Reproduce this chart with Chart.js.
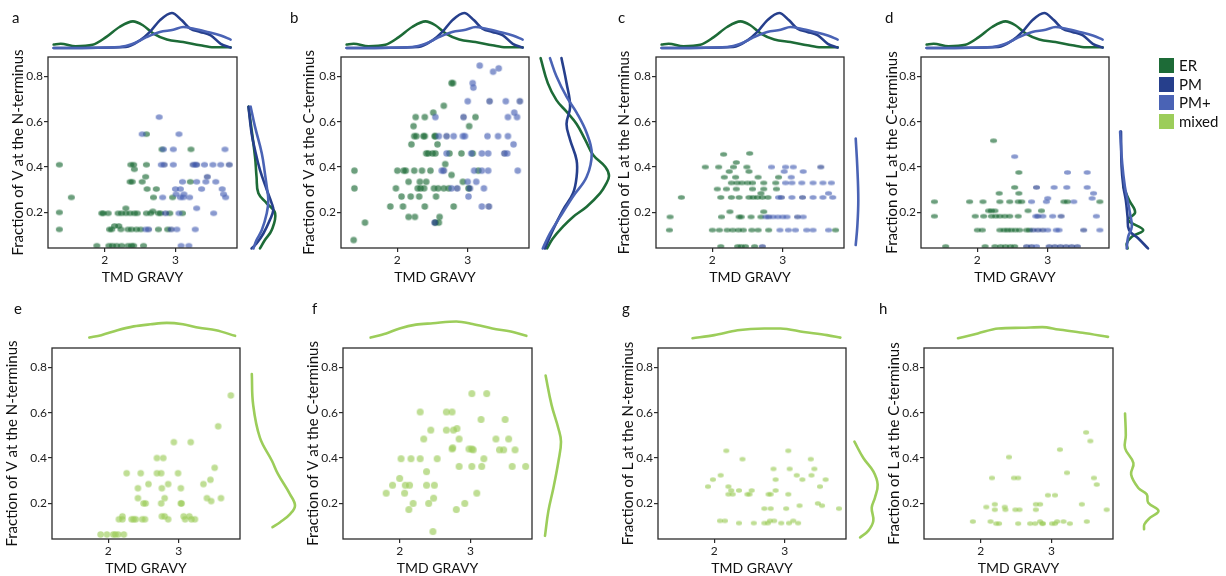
<!DOCTYPE html>
<html>
<head>
<meta charset="utf-8">
<title>TMD GRAVY vs terminal V / L fraction</title>
<script src="https://cdn.jsdelivr.net/npm/chart.js@4.4.1/dist/chart.umd.min.js"></script>
<style>
  body { margin: 0; background: #fff; }
  #page { position: relative; width: 1226px; height: 576px; overflow: hidden; font-family: Lato, "Open Sans", sans-serif; color: #111; }
  #page canvas { position: absolute; }
  .tag { position: absolute; font-size: 15px; line-height: 15px; }
  .key { position: absolute; left: 1159px; font-size: 15px; line-height: 15px; white-space: nowrap; }
  .key span { display: inline-block; width: 15px; height: 15px; vertical-align: top; margin-right: 5px; }
</style>
</head>
<body>
<div id="page"></div>
<script>
// ---- data ----
const groups = ['ER', 'PM', 'PM+', 'mixed'];
const xTicks = [2, 3];
const yTicks = [0.2, 0.4, 0.6, 0.8];
const xRange = [1.2, 3.87];
const yRange = [0.043, 0.885];
const xTitle = 'TMD GRAVY';
const yTitles = ['Fraction of V at the N-terminus', 'Fraction of V at the C-terminus',
                 'Fraction of L at the N-terminus', 'Fraction of L at the C-terminus'];

// scatter points [TMD GRAVY, fraction]
const aER = [[1.36,0.41],[1.36,0.2],[1.36,0.125],[1.53,0.266],[2.37,0.41],[2.41,0.41],[2.59,0.41],[2.42,0.39],[2.58,0.357],
  [2.36,0.335],[2.39,0.335],[2.53,0.335],[3.21,0.335],[2.60,0.303],[2.73,0.303],[2.69,0.266],[2.96,0.266],[2.59,0.545],
  [2.81,0.478],[3.22,0.478],[2.30,0.218],[2.68,0.205],[1.96,0.196],[1.98,0.196],[2.05,0.196],[2.19,0.196],[2.24,0.196],
  [2.30,0.196],[2.36,0.196],[2.42,0.196],[2.46,0.196],[2.59,0.196],[2.65,0.196],[2.76,0.196],[2.79,0.196],[2.92,0.196],
  [3.10,0.196],[2.14,0.14],[2.20,0.14],[2.07,0.125],[2.10,0.125],[2.23,0.125],[2.33,0.125],[2.38,0.125],[2.45,0.125],
  [2.51,0.125],[2.76,0.125],[2.89,0.125],[1.89,0.053],[2.06,0.053],[2.11,0.053],[2.17,0.053],[2.24,0.053],[2.33,0.053],
  [2.38,0.053],[2.41,0.053],[2.55,0.053]];
const aPM = [[2.84,0.41],[3.30,0.41],[3.76,0.41],[3.45,0.357],[2.86,0.196],[2.62,0.125],[2.94,0.125],[3.25,0.41]];
const aPMp = [[2.77,0.62],[2.53,0.545],[3.05,0.545],[2.83,0.478],[2.97,0.478],[3.70,0.478],[2.80,0.41],[2.97,0.41],[3.28,0.41],
  [3.41,0.41],[3.53,0.41],[3.64,0.41],[3.10,0.335],[3.30,0.335],[3.43,0.335],[3.57,0.335],[3.00,0.303],[3.07,0.303],[3.37,0.303],
  [3.66,0.303],[3.01,0.28],[3.12,0.28],[3.68,0.28],[2.82,0.266],[3.07,0.266],[3.11,0.266],[3.20,0.266],[3.71,0.266],[3.30,0.218],
  [3.05,0.196],[3.54,0.196],[2.58,0.125],[3.02,0.125],[3.28,0.125],[3.08,0.053],[3.19,0.053]];

const bER = [[2.77,0.77],[2.79,0.77],[2.66,0.67],[2.51,0.64],[2.26,0.62],[2.39,0.62],[3.11,0.62],[2.23,0.58],[3.02,0.58],
  [2.24,0.536],[2.27,0.536],[2.37,0.536],[2.39,0.536],[2.53,0.536],[2.54,0.536],[2.20,0.50],[2.57,0.50],[2.41,0.46],[2.44,0.46],
  [2.50,0.46],[2.54,0.46],[2.74,0.46],[2.91,0.46],[3.07,0.46],[2.68,0.413],[1.39,0.384],[2.00,0.384],[2.09,0.384],[2.12,0.384],
  [2.24,0.384],[2.35,0.384],[2.47,0.384],[3.15,0.384],[2.77,0.365],[2.16,0.335],[2.32,0.335],[2.41,0.335],[2.93,0.335],
  [1.39,0.306],[1.98,0.306],[2.29,0.306],[2.33,0.306],[2.38,0.306],[2.52,0.306],[2.58,0.306],[2.66,0.306],[2.73,0.306],
  [3.01,0.306],[2.06,0.27],[2.19,0.27],[2.31,0.27],[2.55,0.27],[1.90,0.226],[2.08,0.226],[2.39,0.226],[2.80,0.226],[2.16,0.18],
  [2.25,0.18],[2.60,0.18],[1.54,0.155],[2.54,0.155],[2.59,0.155],[1.38,0.078]];
const bPM = [[3.31,0.69],[3.74,0.69],[2.94,0.62],[2.70,0.536],[3.52,0.46],[2.66,0.384],[2.85,0.306],[3.03,0.306],[3.30,0.226],[2.53,0.155]];
const bPMp = [[3.17,0.847],[3.44,0.835],[3.36,0.82],[3.07,0.77],[3.08,0.75],[3.00,0.69],[3.54,0.69],[3.66,0.64],[2.54,0.62],
  [3.57,0.62],[3.70,0.62],[2.59,0.536],[2.80,0.536],[2.93,0.536],[2.96,0.536],[3.28,0.536],[3.43,0.536],[3.57,0.536],[3.65,0.50],
  [2.70,0.46],[3.05,0.46],[3.20,0.46],[3.29,0.46],[3.56,0.46],[2.63,0.384],[3.09,0.384],[3.20,0.384],[3.29,0.384],[3.71,0.384],
  [3.00,0.335],[3.12,0.335],[2.77,0.306],[3.23,0.306],[3.01,0.27],[3.20,0.226]];

const cER = [[2.53,0.46],[2.16,0.456],[2.34,0.42],[1.90,0.40],[2.09,0.40],[2.30,0.40],[2.49,0.40],[2.24,0.38],[2.52,0.38],
  [2.17,0.355],[2.33,0.355],[2.65,0.355],[2.94,0.355],[2.27,0.33],[2.35,0.33],[2.42,0.33],[2.50,0.33],[2.57,0.33],[2.73,0.33],
  [2.90,0.33],[2.07,0.303],[2.20,0.303],[2.34,0.303],[2.57,0.303],[2.73,0.303],[2.91,0.303],[2.69,0.284],[1.56,0.266],[2.12,0.266],
  [2.27,0.266],[2.38,0.266],[2.52,0.266],[2.58,0.266],[2.64,0.266],[2.71,0.266],[2.79,0.266],[2.25,0.203],[2.73,0.203],[1.40,0.18],
  [2.13,0.18],[2.38,0.18],[2.41,0.18],[2.55,0.18],[2.69,0.18],[1.39,0.122],[2.00,0.122],[2.10,0.122],[2.21,0.122],[2.29,0.122],
  [2.37,0.122],[2.44,0.122],[2.56,0.122],[2.65,0.122],[2.80,0.122],[3.75,0.122],[2.12,0.05],[2.36,0.05],[2.41,0.05],[2.47,0.05],[2.60,0.05]];
const cPM = [[3.54,0.40],[2.98,0.266],[3.28,0.266],[2.80,0.18],[3.21,0.18],[2.71,0.05]];
const cPMp = [[2.84,0.40],[3.04,0.40],[3.15,0.40],[3.02,0.38],[3.29,0.38],[3.12,0.355],[3.04,0.33],[3.13,0.33],[3.27,0.33],[3.43,0.33],
  [3.57,0.33],[3.69,0.33],[3.65,0.284],[2.94,0.266],[3.13,0.266],[3.43,0.266],[3.57,0.266],[3.71,0.266],[2.76,0.18],[2.86,0.18],
  [2.93,0.18],[3.00,0.18],[3.06,0.18],[3.29,0.18],[2.96,0.122],[3.08,0.122],[3.18,0.122],[3.34,0.122],[3.43,0.122],[3.65,0.122]];

const dER = [[2.23,0.516],[2.59,0.376],[2.53,0.31],[2.31,0.284],[2.59,0.284],[1.39,0.247],[1.89,0.247],[2.08,0.247],[2.32,0.247],
  [2.46,0.247],[2.58,0.247],[2.63,0.247],[3.23,0.247],[3.28,0.247],[3.74,0.247],[2.16,0.207],[2.20,0.207],[2.25,0.207],[2.72,0.207],
  [2.91,0.207],[1.39,0.183],[1.97,0.183],[2.09,0.183],[2.20,0.183],[2.26,0.183],[2.32,0.183],[2.39,0.183],[2.46,0.183],[2.58,0.183],
  [2.00,0.122],[2.07,0.122],[2.32,0.122],[2.38,0.122],[2.43,0.122],[2.48,0.122],[2.54,0.122],[2.60,0.122],[2.70,0.122],[2.74,0.122],
  [1.55,0.05],[2.11,0.05],[2.25,0.05],[2.33,0.05],[2.40,0.05],[2.47,0.05],[2.53,0.05]];
const dPM = [[2.84,0.31],[2.86,0.183],[3.19,0.183],[2.79,0.122],[2.86,0.122],[2.93,0.122],[3.51,0.122],[2.70,0.05],[2.77,0.05],
  [3.02,0.05],[3.10,0.05],[3.18,0.05],[3.26,0.05],[3.34,0.05],[3.42,0.05]];
const dPMp = [[2.53,0.446],[3.28,0.376],[3.56,0.376],[3.09,0.31],[3.27,0.31],[3.56,0.31],[3.65,0.284],[3.00,0.262],[3.63,0.262],
  [2.77,0.247],[2.98,0.247],[3.37,0.247],[2.83,0.183],[2.93,0.183],[3.07,0.183],[3.69,0.183],[3.00,0.122],[3.12,0.122],[3.16,0.122],
  [3.74,0.122],[2.84,0.05]];

const eMix = [[3.74,0.676],[3.56,0.54],[2.93,0.47],[3.17,0.47],[2.69,0.40],[2.78,0.40],[3.51,0.357],[2.26,0.333],[2.46,0.333],
  [2.69,0.333],[2.75,0.333],[2.99,0.333],[3.45,0.304],[2.57,0.285],[2.85,0.285],[3.35,0.285],[2.42,0.267],[2.76,0.267],[3.03,0.267],
  [2.42,0.223],[2.80,0.223],[3.40,0.223],[3.60,0.223],[3.46,0.21],[2.50,0.20],[2.53,0.20],[2.75,0.20],[3.03,0.20],[3.04,0.20],
  [2.20,0.143],[2.76,0.143],[2.80,0.143],[3.07,0.143],[3.15,0.143],[2.15,0.13],[2.20,0.13],[2.33,0.13],[2.36,0.13],[2.39,0.13],
  [2.48,0.13],[2.52,0.13],[2.85,0.13],[3.09,0.13],[3.18,0.13],[3.23,0.13],[1.89,0.063],[1.98,0.063],[2.07,0.063],[2.10,0.063],
  [2.14,0.063],[2.22,0.063]];
const fMix = [[3.02,0.684],[3.23,0.684],[2.29,0.603],[2.66,0.603],[2.74,0.603],[3.15,0.57],[3.49,0.57],[2.44,0.523],[2.66,0.523],
  [2.76,0.523],[2.81,0.53],[2.34,0.484],[2.84,0.484],[3.36,0.484],[3.54,0.484],[2.74,0.44],[2.75,0.445],[2.98,0.44],[3.02,0.44],
  [3.04,0.436],[3.41,0.436],[3.47,0.436],[3.63,0.436],[2.02,0.397],[2.16,0.397],[2.29,0.397],[2.53,0.397],[3.19,0.397],[2.84,0.363],
  [3.02,0.363],[3.16,0.363],[3.59,0.363],[3.78,0.363],[2.38,0.34],[2.00,0.31],[1.90,0.28],[2.08,0.28],[2.14,0.28],[2.38,0.28],
  [2.49,0.28],[1.81,0.245],[2.07,0.245],[3.09,0.245],[2.48,0.223],[2.19,0.2],[2.41,0.2],[2.92,0.2],[2.13,0.173],[2.80,0.173],[2.47,0.076]];
const gMix = [[2.17,0.432],[3.05,0.432],[2.40,0.395],[3.37,0.395],[2.84,0.352],[3.07,0.352],[3.42,0.352],[2.09,0.324],[3.17,0.324],
  [3.38,0.324],[1.98,0.305],[2.87,0.305],[3.25,0.305],[3.58,0.305],[1.91,0.274],[2.20,0.274],[3.50,0.274],[2.24,0.257],[2.35,0.257],
  [2.53,0.257],[2.87,0.257],[2.20,0.24],[2.26,0.24],[2.47,0.24],[2.50,0.24],[2.77,0.24],[2.80,0.24],[3.05,0.24],[3.47,0.2],[3.53,0.19],
  [3.21,0.19],[2.71,0.177],[2.80,0.177],[3.02,0.177],[3.77,0.177],[2.08,0.123],[2.15,0.123],[2.79,0.123],[2.85,0.123],[3.12,0.123],
  [2.35,0.113],[2.56,0.113],[2.71,0.113],[2.76,0.113],[2.95,0.113],[3.06,0.113],[3.19,0.113]];
const hMix = [[3.49,0.513],[3.55,0.475],[3.12,0.437],[2.40,0.404],[3.22,0.335],[2.16,0.312],[2.47,0.312],[2.53,0.312],[3.60,0.312],
  [3.64,0.283],[2.95,0.236],[3.05,0.236],[2.20,0.196],[2.78,0.196],[2.84,0.196],[3.43,0.196],[2.08,0.184],[2.34,0.184],[2.20,0.172],
  [2.35,0.172],[2.49,0.172],[2.55,0.172],[2.78,0.172],[3.78,0.172],[1.89,0.12],[2.14,0.12],[2.84,0.12],[3.08,0.12],[3.17,0.12],
  [3.50,0.12],[2.22,0.111],[2.26,0.111],[2.53,0.111],[2.70,0.111],[2.77,0.111],[2.87,0.111],[2.88,0.111],[3.01,0.111],[3.05,0.111],[3.26,0.111]];

// top marginal densities [TMD GRAVY, relative density]
const topER = [[1.28,0.10],[1.38,0.12],[1.59,0.05],[1.83,0.09],[2.02,0.31],[2.21,0.60],[2.40,0.76],[2.54,0.65],[2.69,0.41],
  [2.88,0.24],[3.11,0.17],[3.35,0.08],[3.54,0.02],[3.78,0.02]];
const topPM = [[1.28,0.0],[2.30,0.03],[2.50,0.22],[2.64,0.46],[2.78,0.79],[2.95,1.0],[3.09,0.79],[3.21,0.55],[3.35,0.46],
  [3.50,0.36],[3.64,0.12],[3.78,0.01]];
const topPMp = [[1.28,0.0],[2.21,0.03],[2.40,0.12],[2.59,0.31],[2.78,0.46],[2.97,0.52],[3.11,0.60],[3.26,0.55],[3.45,0.46],
  [3.64,0.36],[3.78,0.24]];
const eTop = [[1.73,0.04],[1.90,0.11],[2.13,0.25],[2.36,0.36],[2.60,0.42],[2.83,0.46],[3.06,0.42],[3.29,0.32],[3.53,0.25],[3.80,0.09]];
const fTop = [[1.59,0.04],[1.81,0.16],[2.00,0.30],[2.23,0.41],[2.47,0.45],[2.80,0.50],[3.03,0.43],[3.31,0.30],[3.60,0.20],[3.79,0.09]];
const gTop = [[1.69,0.02],[2.00,0.11],[2.33,0.25],[2.71,0.30],[2.94,0.30],[3.27,0.20],[3.60,0.11],[3.79,0.04]];
const hTop = [[1.68,0.02],[1.96,0.16],[2.25,0.30],[2.58,0.32],[2.87,0.34],[3.10,0.27],[3.44,0.18],[3.80,0.06]];

// right marginal densities [relative density, fraction]
const aSideER = [[0.08,0.666],[0.11,0.637],[0.29,0.446],[0.34,0.357],[0.40,0.284],[0.67,0.24],[0.94,0.196],[0.83,0.122],[0.61,0.078],[0.45,0.041]];
const aSidePM = [[0.08,0.666],[0.18,0.549],[0.29,0.475],[0.45,0.387],[0.67,0.30],[0.83,0.24],[0.88,0.21],[0.77,0.166],[0.56,0.107],[0.34,0.063],[0.18,0.041]];
const aSidePMp = [[0.15,0.666],[0.29,0.578],[0.51,0.46],[0.61,0.372],[0.67,0.313],[0.72,0.254],[0.67,0.196],[0.51,0.122],[0.34,0.078],[0.24,0.041]];
const bSideER = [[0.05,0.88],[0.15,0.77],[0.27,0.695],[0.41,0.644],[0.55,0.59],[0.67,0.52],[0.78,0.453],[0.95,0.40],[1.0,0.36],
  [0.95,0.32],[0.875,0.284],[0.69,0.225],[0.5,0.18],[0.36,0.137],[0.22,0.085],[0.14,0.041]];
const bSidePM = [[0.34,0.88],[0.41,0.77],[0.46,0.666],[0.41,0.59],[0.46,0.52],[0.55,0.43],[0.55,0.357],[0.5,0.284],[0.36,0.21],[0.22,0.122],[0.11,0.041]];
const bSidePMp = [[0.18,0.88],[0.27,0.80],[0.41,0.71],[0.55,0.64],[0.69,0.55],[0.76,0.46],[0.69,0.357],[0.5,0.27],[0.32,0.18],[0.18,0.107],[0.08,0.041]];
const cSidePMp = [[0.37,0.526],[0.53,0.40],[0.63,0.254],[0.53,0.137],[0.37,0.056]];
const dSideER = [[0.18,0.313],[0.37,0.254],[0.57,0.2],[0.34,0.166],[0.84,0.122],[0.46,0.093],[0.29,0.063],[0.32,0.041]];
const dSidePM = [[0.10,0.556],[0.12,0.40],[0.18,0.313],[0.26,0.254],[0.32,0.18],[0.37,0.122],[0.68,0.085],[1.0,0.041]];
const dSidePMp = [[0.07,0.556],[0.14,0.416],[0.23,0.313],[0.32,0.254],[0.40,0.196],[0.46,0.137],[0.34,0.093],[0.29,0.041]];
const eSide = [[0.04,0.77],[0.07,0.635],[0.22,0.49],[0.49,0.387],[0.62,0.33],[0.89,0.24],[1.0,0.19],[0.89,0.153],[0.67,0.117],[0.5,0.095]];
const fSide = [[0.13,0.764],[0.43,0.633],[0.77,0.53],[0.9,0.472],[0.77,0.385],[0.52,0.268],[0.27,0.167],[0.1,0.057]];
const gSide = [[0.09,0.472],[0.42,0.4],[0.79,0.341],[0.95,0.283],[0.85,0.225],[0.73,0.181],[0.79,0.123],[0.6,0.079],[0.3,0.05]];
const hSide = [[0.08,0.596],[0.1,0.5],[0.08,0.443],[0.3,0.378],[0.24,0.327],[0.43,0.268],[0.65,0.24],[0.69,0.203],[0.96,0.167],
  [0.74,0.137],[0.59,0.108],[0.58,0.086]];

// ---- styling / layout ----
const colors = { 'ER': '#1d6b37', 'PM': '#263f8c', 'PM+': '#4a63b5', 'mixed': '#9ccd5a' };
const FONT = 'Lato, "Open Sans", sans-serif';

const panels = [
  { tag: 'a', tagAt: [12, 10], box: [48, 57, 237, 248], title: 0, ttl: 30, dot: [7, 5.5],
    pts: { 'ER': aER, 'PM': aPM, 'PM+': aPMp }, top: { 'ER': topER, 'PM': topPM, 'PM+': topPMp },
    side: { 'ER': aSideER, 'PM': aSidePM, 'PM+': aSidePMp }, sideBox: [246, 31] },
  { tag: 'b', tagAt: [290, 10], box: [341, 57, 529, 248], title: 1, ttl: 32, dot: [6.5, 6.5],
    pts: { 'ER': bER, 'PM': bPM, 'PM+': bPMp }, top: { 'ER': topER, 'PM': topPM, 'PM+': topPMp },
    side: { 'ER': bSideER, 'PM': bSidePM, 'PM+': bSidePMp }, sideBox: [537, 72] },
  { tag: 'c', tagAt: [618, 10], box: [656, 57, 844, 248], title: 2, ttl: 32, dot: [7, 4.5],
    pts: { 'ER': cER, 'PM': cPM, 'PM+': cPMp }, top: { 'ER': topER, 'PM': topPM, 'PM+': topPMp },
    side: { 'PM+': cSidePMp }, sideBox: [852, 10] },
  { tag: 'd', tagAt: [885, 10], box: [921, 57, 1109, 248], title: 3, ttl: 29, dot: [7, 4.5],
    pts: { 'ER': dER, 'PM': dPM, 'PM+': dPMp }, top: { 'ER': topER, 'PM': topPM, 'PM+': topPMp },
    side: { 'ER': dSideER, 'PM': dSidePM, 'PM+': dSidePMp }, sideBox: [1118, 30] },
  { tag: 'e', tagAt: [14, 301], box: [52, 348, 240, 539], title: 0, ttl: 40, dot: [6.5, 6.5],
    pts: { 'mixed': eMix }, top: { 'mixed': eTop }, side: { 'mixed': eSide }, sideBox: [250, 45] },
  { tag: 'f', tagAt: [312, 301], box: [343, 348, 532, 539], title: 1, ttl: 30, dot: [7, 7],
    pts: { 'mixed': fMix }, top: { 'mixed': fTop }, side: { 'mixed': fSide }, sideBox: [543, 20] },
  { tag: 'g', tagAt: [622, 301], box: [658, 348, 846, 539], title: 2, ttl: 30, dot: [6, 4.5],
    pts: { 'mixed': gMix }, top: { 'mixed': gTop }, side: { 'mixed': gSide }, sideBox: [852, 27] },
  { tag: 'h', tagAt: [879, 301], box: [924, 348, 1113, 539], title: 3, ttl: 30, dot: [6, 4.5],
    pts: { 'mixed': hMix }, top: { 'mixed': hTop }, side: { 'mixed': hSide }, sideBox: [1122, 38] }
];

const page = document.getElementById('page');

function place(x, y, w, h) {
  const c = document.createElement('canvas');
  c.width = Math.round(w); c.height = Math.round(h);
  c.style.left = Math.round(x) + 'px'; c.style.top = Math.round(y) + 'px';
  page.appendChild(c);
  return c;
}

// translucent elliptical marker used as point style
function dot(color, w, h) {
  const c = document.createElement('canvas');
  c.width = Math.ceil(w) + 2; c.height = Math.ceil(h) + 2;
  const g = c.getContext('2d');
  g.globalAlpha = 0.65;
  g.fillStyle = color;
  g.beginPath();
  g.ellipse(c.width / 2, c.height / 2, w / 2, h / 2, 0, 0, Math.PI * 2);
  g.fill();
  return c;
}

const baseOpts = () => ({
  responsive: false, animation: false, devicePixelRatio: 1, events: [],
  plugins: { legend: { display: false }, tooltip: { enabled: false } }
});

const boxLine = {
  id: 'boxLine',
  afterDatasetsDraw(chart) {
    const { ctx, chartArea: a } = chart;
    ctx.save();
    ctx.strokeStyle = '#2b2b2b';
    ctx.lineWidth = 1.3;
    ctx.strokeRect(a.left, a.top, a.right - a.left, a.bottom - a.top);
    ctx.restore();
  }
};

function fixSize(prop, v) {
  return s => {
    s[prop] = v;
    s.paddingLeft = s.paddingRight = s.paddingTop = s.paddingBottom = 0;
  };
}

// smooth density lines; top curves run along x so monotone splines avoid overshoot
function lines(curves, monotone) {
  return Object.keys(curves).map((g, i) => ({
    data: curves[g].map(([a, b]) => ({ x: a, y: b })),
    showLine: true, borderColor: colors[g], borderWidth: 2.6, pointRadius: 0,
    tension: 0.4, cubicInterpolationMode: monotone ? 'monotone' : 'default',
    fill: false, clip: 8, borderCapStyle: 'round', order: 10 - i
  }));
}

function scatterPanel(p) {
  const [l, t, r, b] = p.box;
  const ML = 52, MT = 12, MR = 8, MB = 44;
  const cv = place(l - ML, t - MT, r - l + ML + MR, b - t + MT + MB);
  const grid = { drawOnChartArea: false, tickLength: 4, color: '#2b2b2b', lineWidth: 1.2 };
  const tickFont = { family: FONT, size: 12 };
  new Chart(cv, {
    type: 'scatter',
    data: {
      datasets: Object.keys(p.pts).map((g, i) => ({
        label: g,
        data: p.pts[g].map(([x, y]) => ({ x, y })),
        pointStyle: dot(colors[g], p.dot[0], p.dot[1]),
        pointRadius: 3,
        order: 10 - i
      }))
    },
    options: Object.assign(baseOpts(), {
      layout: { padding: { top: MT, right: MR, left: 0, bottom: 0 } },
      scales: {
        x: {
          type: 'linear', min: xRange[0], max: xRange[1],
          afterBuildTicks: s => { s.ticks = xTicks.map(v => ({ value: v })); },
          afterFit: fixSize('height', MB),
          grid, border: { display: false },
          ticks: { font: tickFont, color: '#222', padding: 1, maxRotation: 0, callback: v => String(v) },
          title: { display: true, text: xTitle, font: { family: FONT, size: 14 }, color: '#111', padding: { top: 0, bottom: 6 } }
        },
        y: {
          type: 'linear', min: yRange[0], max: yRange[1],
          afterBuildTicks: s => { s.ticks = yTicks.map(v => ({ value: v })); },
          afterFit: fixSize('width', ML),
          grid, border: { display: false },
          ticks: { font: tickFont, color: '#222', padding: 1, callback: v => v.toFixed(1) },
          title: { display: true, text: yTitles[p.title], font: { family: FONT, size: 15 }, color: '#111', padding: { top: 43 - p.ttl, bottom: 0 } }
        }
      }
    }),
    plugins: [boxLine]
  });
}

function topCurves(p) {
  const [l, t, r] = p.box;
  const P = 6, H = 35, baseY = t - 9;
  const cv = place(l - P, baseY - H - P, r - l + 2 * P, H + 2 * P);
  new Chart(cv, {
    type: 'scatter',
    data: { datasets: lines(p.top, true) },
    options: Object.assign(baseOpts(), {
      layout: { padding: P },
      scales: {
        x: { display: false, type: 'linear', min: xRange[0], max: xRange[1] },
        y: { display: false, type: 'linear', min: 0, max: 1 }
      }
    })
  });
}

function sideCurves(p) {
  const [, t, , b] = p.box;
  const [x0, w] = p.sideBox;
  const P = 6;
  const cv = place(x0 - P, t - P, w + 2 * P, b - t + 2 * P);
  new Chart(cv, {
    type: 'scatter',
    data: { datasets: lines(p.side, false) },
    options: Object.assign(baseOpts(), {
      layout: { padding: P },
      scales: {
        x: { display: false, type: 'linear', min: 0, max: 1 },
        y: { display: false, type: 'linear', min: yRange[0], max: yRange[1] }
      }
    })
  });
}

panels.forEach(p => {
  scatterPanel(p);
  topCurves(p);
  sideCurves(p);
  const d = document.createElement('div');
  d.className = 'tag';
  d.textContent = p.tag;
  d.style.left = p.tagAt[0] + 'px';
  d.style.top = p.tagAt[1] + 'px';
  page.appendChild(d);
});

// legend
groups.forEach((g, i) => {
  const d = document.createElement('div');
  d.className = 'key';
  d.style.top = (58 + i * 18.5) + 'px';
  d.innerHTML = '<span style="background:' + colors[g] + '"></span>' + g;
  page.appendChild(d);
});
</script>
</body>
</html>
